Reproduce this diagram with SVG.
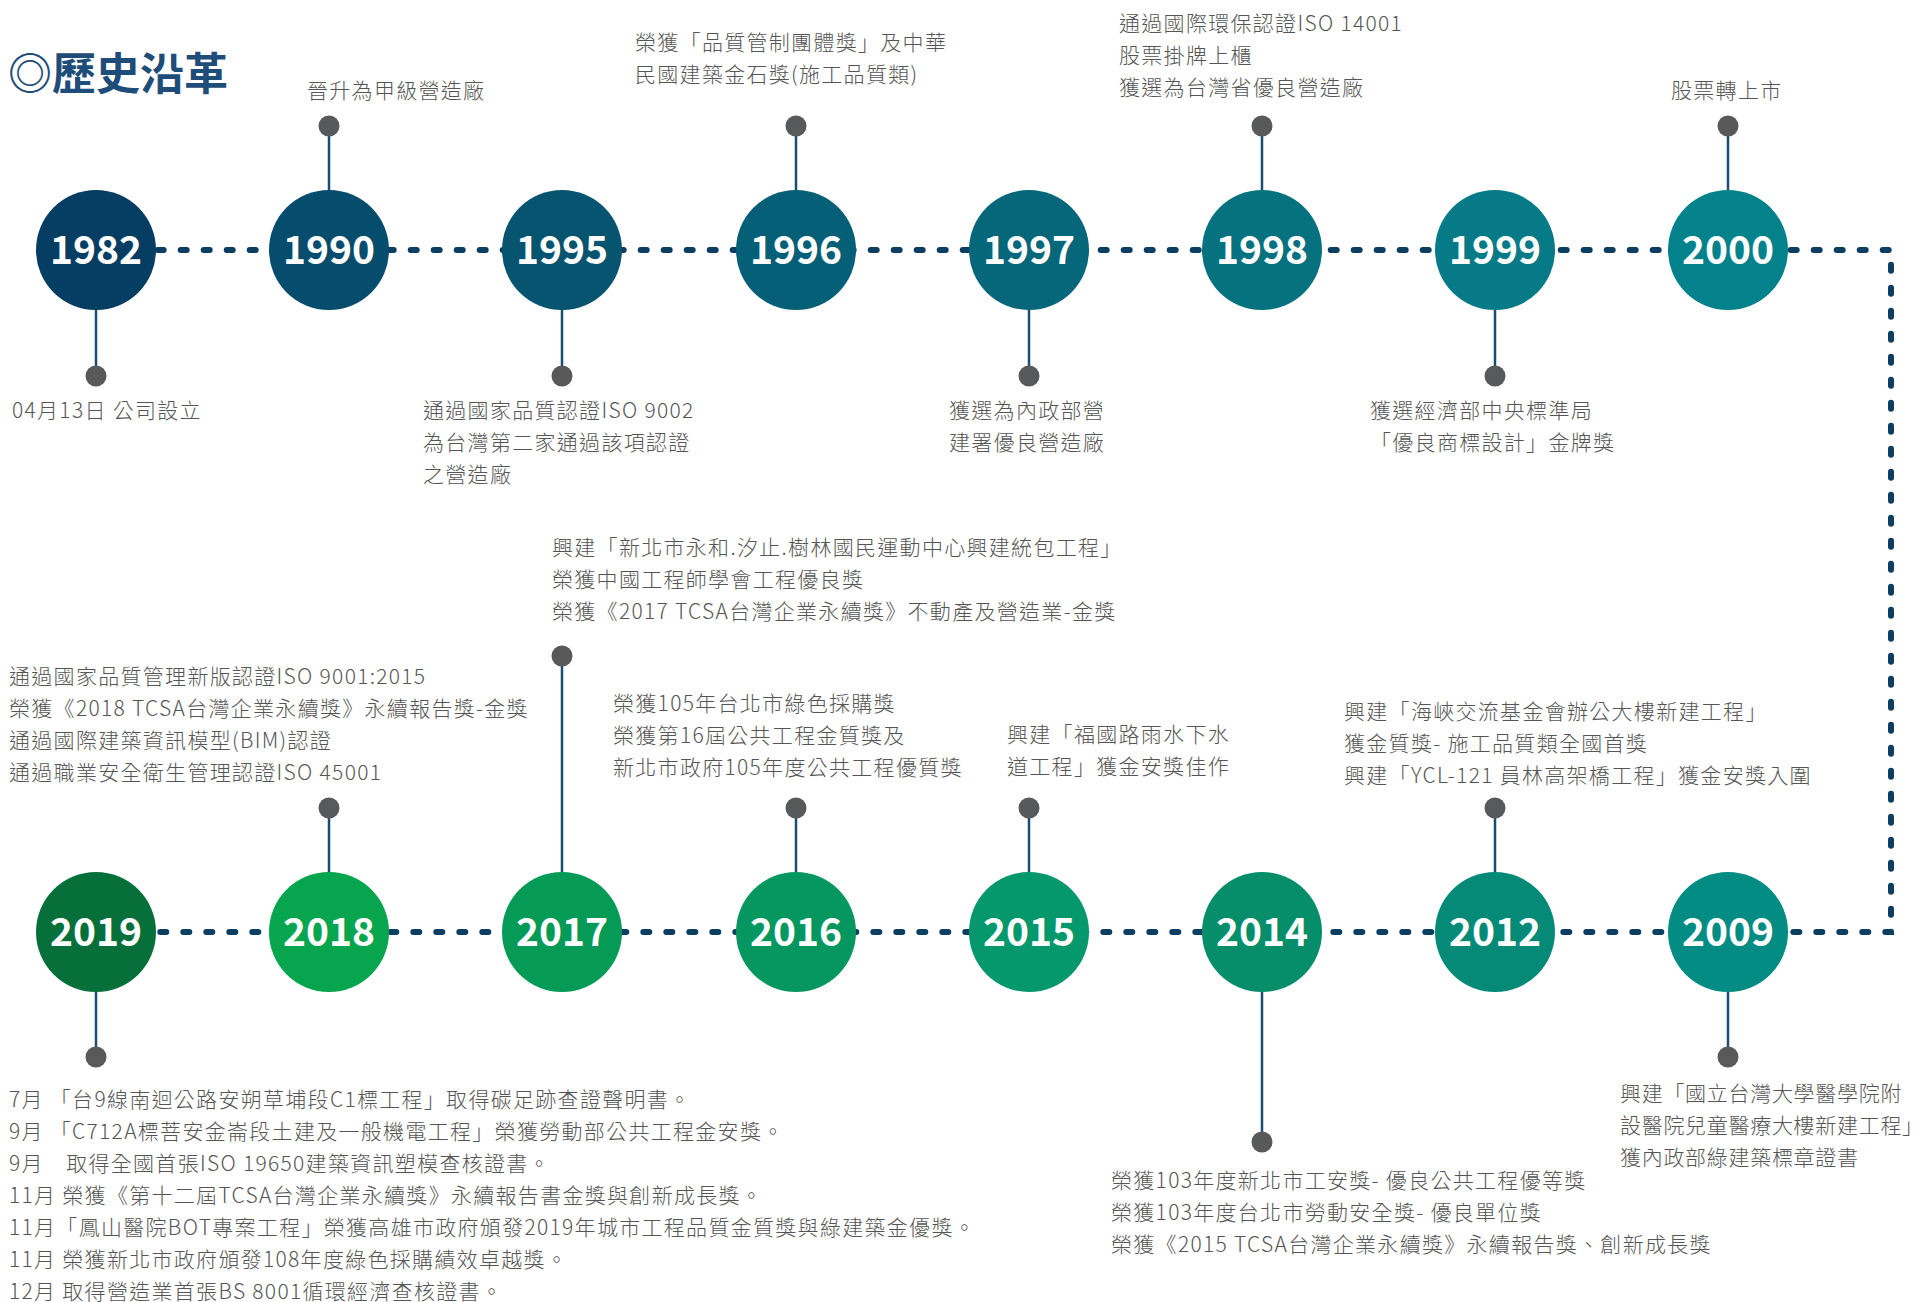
<svg xmlns="http://www.w3.org/2000/svg" width="1928" height="1302" viewBox="0 0 1928 1302">
<style>
.yr{font-family:"Noto Sans CJK TC","Noto Sans",sans-serif;font-weight:700;font-size:39px;fill:#fff;text-anchor:middle}
.t{font-family:"Noto Sans CJK TC","Noto Sans",sans-serif;font-weight:300;font-size:21px;letter-spacing:1.3px;fill:#555}
.tn{letter-spacing:0.7px}
.stem{stroke:#1a4d70;stroke-width:2.5}
.pin{fill:#58595b}
.conn{fill:none;stroke:#0c3e62;stroke-width:6;stroke-linecap:round;stroke-dasharray:6 17;stroke-dashoffset:7.3}
.title{font-family:"Noto Sans CJK TC","Noto Sans",sans-serif;font-weight:700;font-size:44px;fill:#1f4d7a}
</style>
<rect width="1928" height="1302" fill="#fff"/>
<text class="title" x="8" y="90">◎歷史沿革</text>
<g id="connectors">
<path class="conn" d="M96,250 H1891 V932 H96"/>
</g>
<g id="n1982">
<line class="stem" x1="96" y1="310" x2="96" y2="376"/><circle class="pin" cx="96" cy="376" r="10.5"/>
<circle cx="96" cy="250" r="60" fill="#053d63"/><text class="yr" x="96" y="264">1982</text>
<text class="t" x="12" y="418">04月13日 公司設立</text>
</g>
<g id="n1990">
<line class="stem" x1="329" y1="126" x2="329" y2="190"/><circle class="pin" cx="329" cy="126" r="10.5"/>
<circle cx="329" cy="250" r="60" fill="#054c6d"/><text class="yr" x="329" y="264">1990</text>
<text class="t" x="307" y="98">晉升為甲級營造廠</text>
</g>
<g id="n1995">
<line class="stem" x1="562" y1="310" x2="562" y2="376"/><circle class="pin" cx="562" cy="376" r="10.5"/>
<circle cx="562" cy="250" r="60" fill="#065470"/><text class="yr" x="562" y="264">1995</text>
<text class="t" x="423" y="418">通過國家品質認證ISO 9002</text>
<text class="t" x="423" y="450">為台灣第二家通過該項認證</text>
<text class="t" x="423" y="482">之營造廠</text>
</g>
<g id="n1996">
<line class="stem" x1="796" y1="126" x2="796" y2="190"/><circle class="pin" cx="796" cy="126" r="10.5"/>
<circle cx="796" cy="250" r="60" fill="#055f77"/><text class="yr" x="796" y="264">1996</text>
<text class="t" x="635" y="50">榮獲「品質管制團體獎」及中華</text>
<text class="t" x="635" y="82">民國建築金石獎(施工品質類)</text>
</g>
<g id="n1997">
<line class="stem" x1="1029" y1="310" x2="1029" y2="376"/><circle class="pin" cx="1029" cy="376" r="10.5"/>
<circle cx="1029" cy="250" r="60" fill="#06677b"/><text class="yr" x="1029" y="264">1997</text>
<text class="t" x="949" y="418">獲選為內政部營</text>
<text class="t" x="949" y="450">建署優良營造廠</text>
</g>
<g id="n1998">
<line class="stem" x1="1262" y1="126" x2="1262" y2="190"/><circle class="pin" cx="1262" cy="126" r="10.5"/>
<circle cx="1262" cy="250" r="60" fill="#06717f"/><text class="yr" x="1262" y="264">1998</text>
<text class="t" x="1119" y="31">通過國際環保認證ISO 14001</text>
<text class="t" x="1119" y="63">股票掛牌上櫃</text>
<text class="t" x="1119" y="95">獲選為台灣省優良營造廠</text>
</g>
<g id="n1999">
<line class="stem" x1="1495" y1="310" x2="1495" y2="376"/><circle class="pin" cx="1495" cy="376" r="10.5"/>
<circle cx="1495" cy="250" r="60" fill="#067a86"/><text class="yr" x="1495" y="264">1999</text>
<text class="t" x="1370" y="418">獲選經濟部中央標準局</text>
<text class="t" x="1370" y="450">「優良商標設計」金牌獎</text>
</g>
<g id="n2000">
<line class="stem" x1="1728" y1="126" x2="1728" y2="190"/><circle class="pin" cx="1728" cy="126" r="10.5"/>
<circle cx="1728" cy="250" r="60" fill="#04828c"/><text class="yr" x="1728" y="264">2000</text>
<text class="t" x="1671" y="98">股票轉上市</text>
</g>
<g id="n2009">
<line class="stem" x1="1728" y1="992" x2="1728" y2="1057"/><circle class="pin" cx="1728" cy="1057" r="10.5"/>
<circle cx="1728" cy="932" r="60" fill="#038c84"/><text class="yr" x="1728" y="946">2009</text>
<text class="t tn" x="1620" y="1101">興建「國立台灣大學醫學院附</text>
<text class="t tn" x="1620" y="1133">設醫院兒童醫療大樓新建工程」</text>
<text class="t tn" x="1620" y="1165">獲內政部綠建築標章證書</text>
</g>
<g id="n2012">
<line class="stem" x1="1495" y1="808" x2="1495" y2="872"/><circle class="pin" cx="1495" cy="808" r="10.5"/>
<circle cx="1495" cy="932" r="60" fill="#048a76"/><text class="yr" x="1495" y="946">2012</text>
<text class="t" x="1344" y="719">興建「海峽交流基金會辦公大樓新建工程」</text>
<text class="t" x="1344" y="751">獲金質獎- 施工品質類全國首獎</text>
<text class="t" x="1344" y="783">興建「YCL-121 員林高架橋工程」獲金安獎入圍</text>
</g>
<g id="n2014">
<line class="stem" x1="1262" y1="992" x2="1262" y2="1142"/><circle class="pin" cx="1262" cy="1142" r="10.5"/>
<circle cx="1262" cy="932" r="60" fill="#058e69"/><text class="yr" x="1262" y="946">2014</text>
<text class="t" x="1111" y="1188">榮獲103年度新北市工安獎- 優良公共工程優等獎</text>
<text class="t" x="1111" y="1220">榮獲103年度台北市勞動安全獎- 優良單位獎</text>
<text class="t" x="1111" y="1252">榮獲《2015 TCSA台灣企業永續獎》永續報告獎、創新成長獎</text>
</g>
<g id="n2015">
<line class="stem" x1="1029" y1="808" x2="1029" y2="872"/><circle class="pin" cx="1029" cy="808" r="10.5"/>
<circle cx="1029" cy="932" r="60" fill="#04986c"/><text class="yr" x="1029" y="946">2015</text>
<text class="t" x="1007" y="742">興建「福國路雨水下水</text>
<text class="t" x="1007" y="774">道工程」獲金安獎佳作</text>
</g>
<g id="n2016">
<line class="stem" x1="796" y1="808" x2="796" y2="872"/><circle class="pin" cx="796" cy="808" r="10.5"/>
<circle cx="796" cy="932" r="60" fill="#069760"/><text class="yr" x="796" y="946">2016</text>
<text class="t" x="613" y="711">榮獲105年台北市綠色採購獎</text>
<text class="t" x="613" y="743">榮獲第16屆公共工程金質獎及</text>
<text class="t" x="613" y="775">新北市政府105年度公共工程優質獎</text>
</g>
<g id="n2017">
<line class="stem" x1="562" y1="656" x2="562" y2="872"/><circle class="pin" cx="562" cy="656" r="10.5"/>
<circle cx="562" cy="932" r="60" fill="#059a56"/><text class="yr" x="562" y="946">2017</text>
<text class="t" x="552" y="555">興建「新北市永和.汐止.樹林國民運動中心興建統包工程」</text>
<text class="t" x="552" y="587">榮獲中國工程師學會工程優良獎</text>
<text class="t" x="552" y="619">榮獲《2017 TCSA台灣企業永續獎》不動產及營造業-金獎</text>
</g>
<g id="n2018">
<line class="stem" x1="329" y1="808" x2="329" y2="872"/><circle class="pin" cx="329" cy="808" r="10.5"/>
<circle cx="329" cy="932" r="60" fill="#07a54d"/><text class="yr" x="329" y="946">2018</text>
<text class="t" x="9" y="684">通過國家品質管理新版認證ISO 9001:2015</text>
<text class="t" x="9" y="716">榮獲《2018 TCSA台灣企業永續獎》永續報告獎-金獎</text>
<text class="t" x="9" y="748">通過國際建築資訊模型(BIM)認證</text>
<text class="t" x="9" y="780">通過職業安全衛生管理認證ISO 45001</text>
</g>
<g id="n2019">
<line class="stem" x1="96" y1="992" x2="96" y2="1057"/><circle class="pin" cx="96" cy="1057" r="10.5"/>
<circle cx="96" cy="932" r="60" fill="#07703a"/><text class="yr" x="96" y="946">2019</text>
<text class="t" x="9" y="1107">7月 「台9線南迴公路安朔草埔段C1標工程」取得碳足跡查證聲明書。</text>
<text class="t" x="9" y="1139">9月 「C712A標菩安金崙段土建及一般機電工程」榮獲勞動部公共工程金安獎。</text>
<text class="t" x="9" y="1171">9月　取得全國首張ISO 19650建築資訊塑模查核證書。</text>
<text class="t" x="9" y="1203">11月 榮獲《第十二屆TCSA台灣企業永續獎》永續報告書金獎與創新成長獎。</text>
<text class="t" x="9" y="1235">11月「鳳山醫院BOT專案工程」榮獲高雄市政府頒發2019年城市工程品質金質獎與綠建築金優獎。</text>
<text class="t" x="9" y="1267">11月 榮獲新北市政府頒發108年度綠色採購績效卓越獎。</text>
<text class="t" x="9" y="1299">12月 取得營造業首張BS 8001循環經濟查核證書。</text>
</g>
</svg>
